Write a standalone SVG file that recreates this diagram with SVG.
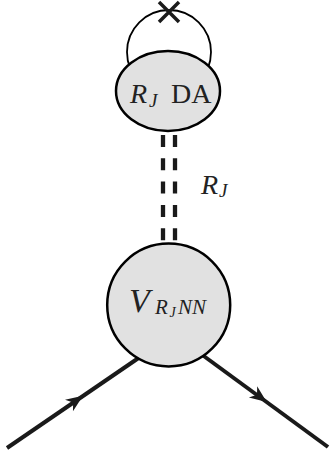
<svg xmlns="http://www.w3.org/2000/svg" width="330" height="455" viewBox="0 0 330 455">
<style>
.blob{fill:#e1e1e1;stroke:#000;stroke-width:2.5}
.line{stroke:#1a1a1a;stroke-width:4;fill:none}
.dash{stroke:#1a1a1a;stroke-width:4.3;stroke-dasharray:12 11.3;fill:none}
.m{font-family:"Liberation Serif",serif;font-style:italic;fill:#222}
.r{font-family:"Liberation Serif",serif;fill:#222}
.arr{fill:#1a1a1a}
</style>
<g id="connectors">
<circle cx="169" cy="52" r="42" fill="none" stroke="#000" stroke-width="1.8"/>
<line class="dash" x1="163" y1="135" x2="163" y2="242"/>
<line class="dash" x1="175" y1="135" x2="175" y2="242"/>
<line class="line" x1="7" y1="448" x2="140" y2="357"/>
<line class="line" x1="201" y1="354" x2="328" y2="447"/>
<path class="arr" d="M0,0 L-17,-7 L-12,0 L-17,7 Z" transform="translate(83,395.8) rotate(-34.5)"/>
<path class="arr" d="M0,0 L-17,-7 L-12,0 L-17,7 Z" transform="translate(266.7,401.9) rotate(36.4)"/>
<text class="m" x="201" y="194" font-size="28">R</text>
<text class="m" x="219" y="197" font-size="19">J</text>
</g>
<g id="cross">
<path d="M159,2 L179,22 M179,2 L159,22" stroke="#1a1a1a" stroke-width="3.5"/>
</g>
<g id="node-da">
<ellipse class="blob" cx="168" cy="91" rx="52" ry="40"/>
<text class="m" x="130" y="103" font-size="28">R</text>
<text class="m" x="149" y="107" font-size="19">J</text>
<text class="r" x="171" y="103" font-size="28">DA</text>
</g>
<g id="node-v">
<circle class="blob" cx="168.7" cy="305" r="61.5"/>
<text class="m" x="129" y="312" font-size="34">V</text>
<text class="m" x="155" y="313.5" font-size="21">R</text>
<text class="m" x="169.5" y="317" font-size="14">J</text>
<text class="m" x="178" y="313.5" font-size="21">NN</text>
</g>
</svg>
